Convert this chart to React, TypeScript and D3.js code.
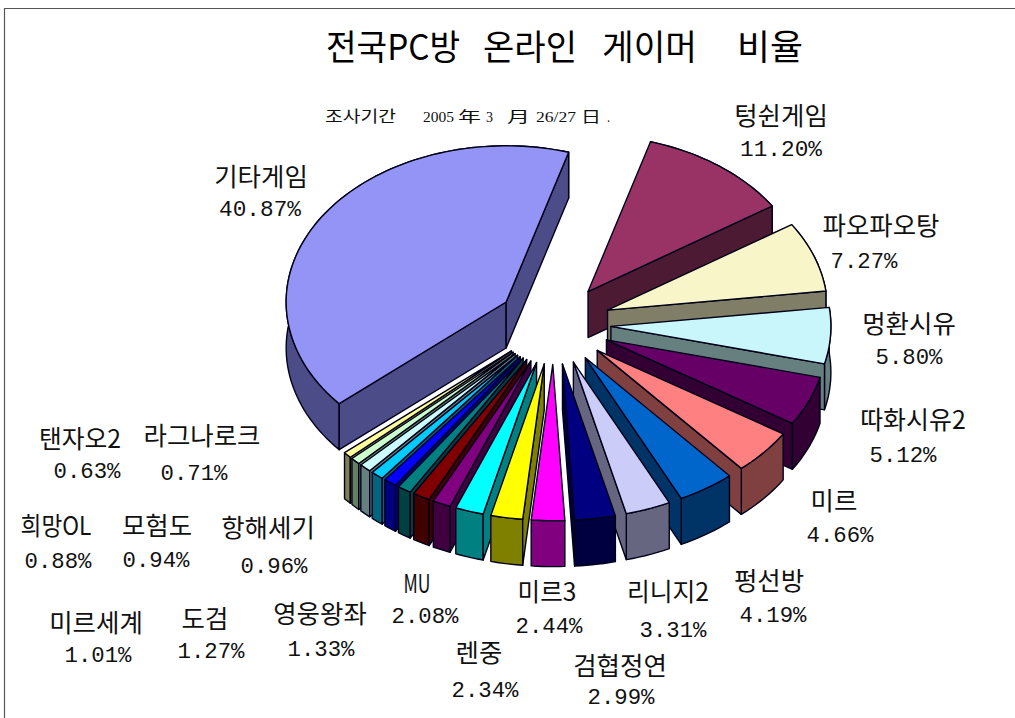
import React from "react";
import * as d3 from "d3";

const WIDTH = 1015;
const HEIGHT = 718;

const games = [
  "텅쉰게임", "파오파오탕", "멍환시유", "따화시유2", "미르", "펑선방", "리니지2", "검협정연", "미르3", "렌중",
  "MU", "영웅왕좌", "도검", "미르세계", "항해세기", "모험도", "희망OL", "라그나로크", "탠자오2", "기타게임",
];
const shares = [
  11.2, 7.27, 5.8, 5.12, 4.66, 4.19, 3.31, 2.99, 2.44, 2.34,
  2.08, 1.33, 1.27, 1.01, 0.96, 0.94, 0.88, 0.71, 0.63, 40.87,
];
const topColors = [
  "#993366", "#f8f6c8", "#c8f6fa", "#660066", "#ff8080", "#0066cc", "#ccccf8", "#000080", "#ff00ff", "#ffff00",
  "#00ffff", "#800080", "#800000", "#008080", "#0000ff", "#00ccff", "#ccffff", "#ccffcc", "#ffff99", "#9494f6",
];
const sideColors = [
  "#4d1a33", "#807e66", "#668080", "#330033", "#804040", "#003366", "#666680", "#000040", "#800080", "#808000",
  "#008080", "#400040", "#400000", "#004040", "#000080", "#006680", "#668080", "#668066", "#80804c", "#4c4c88",
];
const titleWords = ["전국PC방", "온라인", "게이머", "비율"];
const surveyParts = ["조사기간", "2005", "年", "3", "月", "26/27", "日", "."];

// Hand-placed label anchors: name centre x, name baseline, value centre x, value baseline.
const labelAnchors: [number, number, number, number][] = [
  [781, 125, 781, 156], [881, 235, 864, 268], [909, 333, 909, 364], [913, 429, 903, 462],
  [834, 510, 840, 542], [769, 590, 773, 622], [668, 601, 673, 637], [620, 675, 621, 704],
  [547, 601, 549, 633], [479, 662, 485, 697], [417, 593, 425, 623], [320, 623, 321, 656],
  [205, 628, 211, 658], [96, 632, 98, 662], [268, 537, 274, 573], [157, 535, 156, 567],
  [56, 535, 58, 568], [202, 445, 194, 480], [80, 448, 87, 478], [261, 186, 260, 216],
];
// Left edge and fitted width of each title word and survey-date fragment.
const titleSpans: [number, number][] = [[326, 134], [483, 94], [602, 95], [737, 66]];
const surveySpans: [number, number][] = [
  [325, 71], [423, 31], [458, 23], [486, 7], [507, 23], [536, 40], [581, 20], [607, 3],
];

const CX = 554;
const CY = 324;
const RADIUS = 220;
const EXPLODE = 57;
const SQUASH = 0.71;
const DEPTH = 46;
const START = (16.5 * Math.PI) / 180;
const KOREAN = "'Noto Sans CJK KR', sans-serif";
const MONO = "'Liberation Mono', monospace";
const SERIF = "'Liberation Serif', serif";

type Pt = [number, number];

const pieGen = d3
  .pie<number>()
  .sortValues(null)
  .sort(null)
  .startAngle(START)
  .endAngle(START + 2 * Math.PI);

const radial = (a: number, r: number): Pt => [r * Math.sin(a), -r * Math.cos(a) * SQUASH];

const polygon = d3.line<Pt>();

const slices = pieGen(shares)
  .map((arc) => {
    const mid = (arc.startAngle + arc.endAngle) / 2;
    const [ox, oy] = radial(mid, EXPLODE);
    const apex: Pt = [CX + ox, CY + oy];
    const steps = Math.max(2, Math.ceil((arc.endAngle - arc.startAngle) / 0.03));
    const rim: Pt[] = d3.range(steps + 1).map((i) => {
      const a = arc.startAngle + ((arc.endAngle - arc.startAngle) * i) / steps;
      const [x, y] = radial(a, RADIUS);
      return [apex[0] + x, apex[1] + y] as Pt;
    });
    return {
      i: arc.index,
      mid,
      apex,
      rim,
      // A cut wall shows only when its outward normal points toward the viewer.
      firstWallShows: Math.sin(arc.startAngle) < 0,
      lastWallShows: Math.sin(arc.endAngle) > 0,
    };
  })
  // Far slices first, so nearer ones paint over their walls.
  .sort((a, b) => -Math.cos(a.mid) - -Math.cos(b.mid));

const drop = (p: Pt): Pt => [p[0], p[1] + DEPTH];

const nameWidth = (text: string) =>
  text === "MU" ? 27 : Array.from(text).reduce((w, c) => w + (c.charCodeAt(0) > 255 ? 23.4 : 12), 0);

export default function App() {
  return (
    <svg
      width={WIDTH}
      height={HEIGHT}
      viewBox={`0 0 ${WIDTH} ${HEIGHT}`}
      style={{ position: "fixed", left: 0, top: 0, background: "#ffffff" }}
    >
      <path d={`M4.5 ${HEIGHT}V8.5H${WIDTH}`} fill="none" stroke="#555" strokeWidth={1.2} />
      {titleWords.map((w, i) => (
        <text
          key={w}
          x={titleSpans[i][0]}
          y={60}
          fontFamily={KOREAN}
          fontSize={35}
          fill="#000"
          textLength={titleSpans[i][1]}
          lengthAdjust="spacingAndGlyphs"
        >
          {w}
        </text>
      ))}
      {surveyParts.map((p, i) => (
        <text
          key={p}
          x={surveySpans[i][0]}
          y={122}
          fontFamily={/^[\d/.]+$/.test(p) ? SERIF : KOREAN}
          fontSize={i === 0 ? 16 : 15}
          fill="#111"
          textLength={surveySpans[i][1]}
          lengthAdjust="spacingAndGlyphs"
        >
          {p}
        </text>
      ))}

      <g stroke="#000018" strokeWidth={1.4} strokeLinejoin="round">
        {slices.map((s) => {
          const first = s.rim[0];
          const last = s.rim[s.rim.length - 1];
          const side = sideColors[s.i];
          return (
            <g key={games[s.i]}>
              <path d={polygon([...s.rim, ...s.rim.map(drop).reverse()]) + "Z"} fill={side} />
              {s.firstWallShows && (
                <path d={polygon([s.apex, first, drop(first), drop(s.apex)]) + "Z"} fill={side} />
              )}
              {s.lastWallShows && (
                <path d={polygon([s.apex, last, drop(last), drop(s.apex)]) + "Z"} fill={side} />
              )}
              <path d={polygon([s.apex, ...s.rim]) + "Z"} fill={topColors[s.i]} />
            </g>
          );
        })}
      </g>

      {games.map((name, i) => {
        const [nx, ny, vx, vy] = labelAnchors[i];
        const value = `${shares[i].toFixed(2)}%`;
        const valueWidth = value.length === 6 ? 82 : 67;
        return (
          <g key={name} fill="#111">
            <text
              x={nx}
              y={ny}
              textAnchor="middle"
              fontFamily={KOREAN}
              fontSize={25}
              textLength={nameWidth(name)}
              lengthAdjust="spacingAndGlyphs"
            >
              {name}
            </text>
            <text
              x={vx}
              y={vy}
              textAnchor="middle"
              fontFamily={MONO}
              fontSize={22}
              textLength={valueWidth}
              lengthAdjust="spacingAndGlyphs"
            >
              {value}
            </text>
          </g>
        );
      })}
    </svg>
  );
}
